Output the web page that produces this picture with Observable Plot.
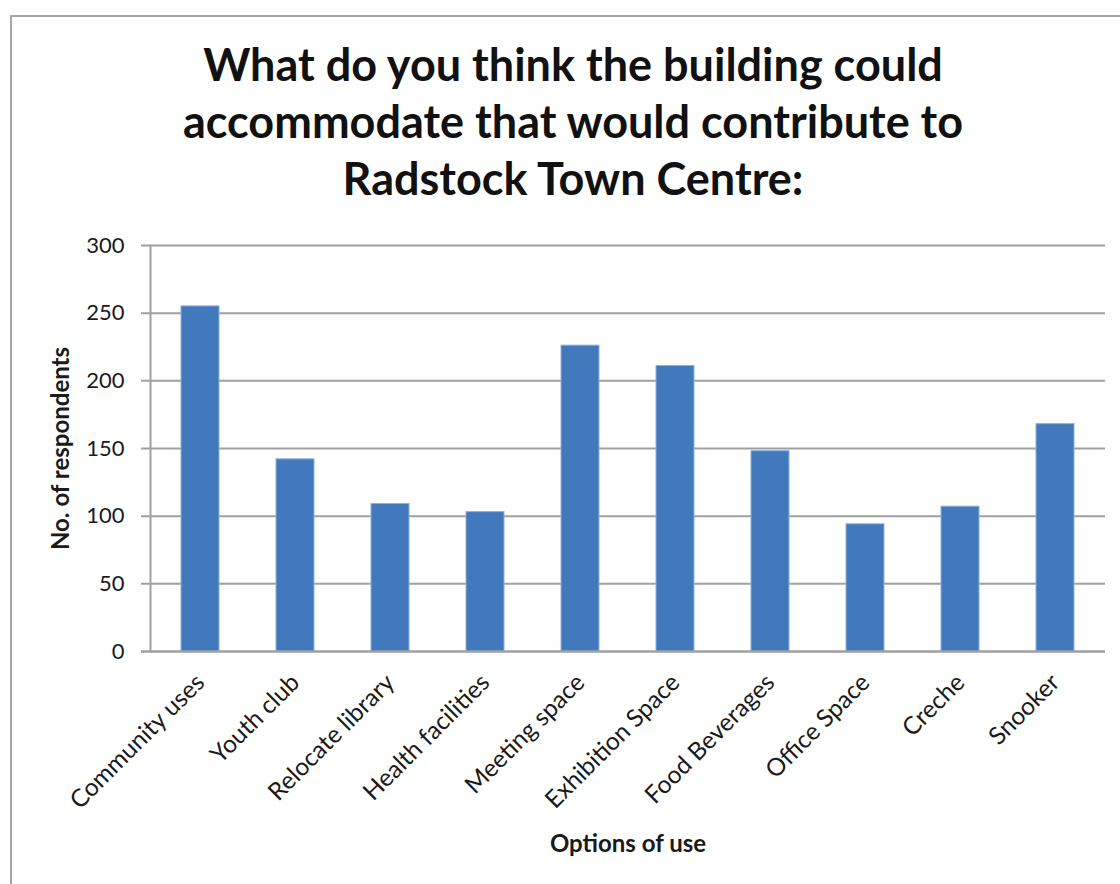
<!DOCTYPE html>
<html>
<head>
<meta charset="utf-8">
<script src="https://cdn.jsdelivr.net/npm/d3@7"></script>
<script src="https://cdn.jsdelivr.net/npm/@observablehq/plot@0.6"></script>
<style>
  html, body { margin: 0; padding: 0; background: #fff; overflow: hidden; }
  #wrap { position: relative; width: 1120px; height: 884px; overflow: hidden; }
  #border { position: absolute; left: 10px; top: 15px; width: 1200px; height: 1000px; border: 2px solid #a6a6a6; box-sizing: border-box; }
  #title { position: absolute; left: 0; top: 36px; width: 1146px; text-align: center;
           font-family: Lato, sans-serif; font-weight: bold; font-size: 45px; line-height: 57px; color: #111; }
  #chart { position: absolute; left: 0; top: 0; }
  #chart svg g[aria-label="y-axis label"] text,
  #chart svg g[aria-label="x-axis label"] text { font-weight: bold; font-size: 24px; }
  #chart svg g[aria-label="x-axis tick label"] text { font-size: 24.5px; }
</style>
</head>
<body>
<div id="wrap">
  <div id="border"></div>
  <div id="title">What do you think the building could<br>accommodate that would contribute to<br>Radstock Town Centre:</div>
  <div id="chart"></div>
</div>
<script>
const categories = ["Community uses", "Youth club", "Relocate library", "Health facilities", "Meeting space",
                    "Exhibition Space", "Food Beverages", "Office Space", "Creche", "Snooker"];
const respondents = [255, 142, 109, 103, 226, 211, 148, 94, 107, 168];
const yTicks = [0, 50, 100, 150, 200, 250, 300];

const data = categories.map((c, i) => ({category: c, value: respondents[i]}));

const chart = Plot.plot({
  width: 1120,
  height: 884,
  marginLeft: 150,
  marginRight: 15,
  marginTop: 245,
  marginBottom: 233,
  style: {background: "transparent", fontFamily: "Lato, sans-serif", fontSize: "22px", color: "#1a1a1a", overflow: "visible"},
  x: {domain: categories, paddingInner: 0.6, paddingOuter: 0.3},
  y: {domain: [0, 300]},
  marks: [
    Plot.ruleY(yTicks, {stroke: "#a0a0a0", strokeWidth: 2, insetLeft: -9}),
    Plot.frame({anchor: "left", stroke: "#a0a0a0", strokeWidth: 2}),
    Plot.barY(data, {x: "category", y: "value", fill: "#4179bc", stroke: "#8fb0dc", strokeWidth: 1}),
    Plot.ruleY([0], {stroke: "#a0a0a0", strokeWidth: 2, insetLeft: -9}),
    Plot.axisY({ticks: yTicks, tickSize: 0, tickPadding: 26, label: "No. of respondents", labelAnchor: "center", labelOffset: 99, labelArrow: "none", fontSize: 22}),
    Plot.axisX({tickSize: 0, tickRotate: -45, tickPadding: 27, label: "Options of use", labelAnchor: "center", labelOffset: 200, labelArrow: "none", fontSize: 24})
  ]
});
document.getElementById("chart").appendChild(chart);
</script>
</body>
</html>
